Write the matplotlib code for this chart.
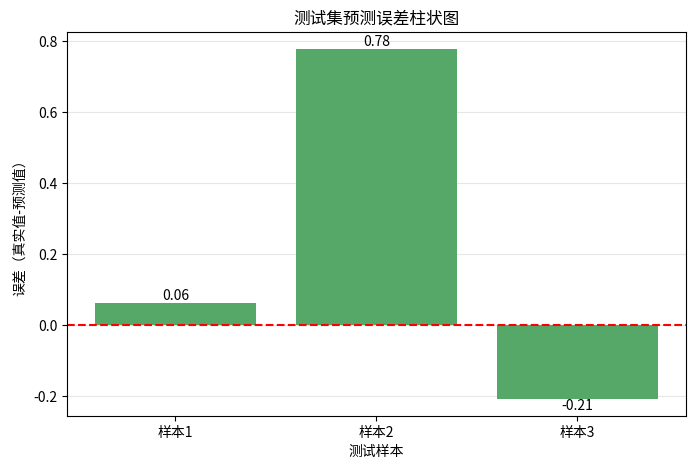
import matplotlib
matplotlib.use('Agg')
import matplotlib.pyplot as plt

plt.rcParams['font.family'] = ['Noto Sans CJK SC', 'DejaVu Sans']
plt.rcParams['axes.unicode_minus'] = False

samples = ['样本1', '样本2', '样本3']
errors = [0.062, 0.777, -0.206]

fig, ax = plt.subplots(figsize=(6.97, 4.69), dpi=100)
bars = ax.bar(samples, errors, color='#55a868', width=0.8)
ax.axhline(0, color='red', linestyle='--', linewidth=1.5)

for b, v in zip(bars, errors):
    x = b.get_x() + b.get_width() / 2
    if v >= 0:
        ax.text(x, v, f'{v:.2f}', ha='center', va='bottom', fontsize=10)
    else:
        ax.text(x, v, f'{v:.2f}', ha='center', va='top', fontsize=10)

ax.set_title('测试集预测误差柱状图', fontsize=12)
ax.set_xlabel('测试样本')
ax.set_ylabel('误差（真实值-预测值）')
ax.grid(axis='y', alpha=0.3)
ax.set_axisbelow(True)

fig.subplots_adjust(left=0.096, right=0.984, top=0.932, bottom=0.113)
fig.savefig('out.png', dpi=100)
